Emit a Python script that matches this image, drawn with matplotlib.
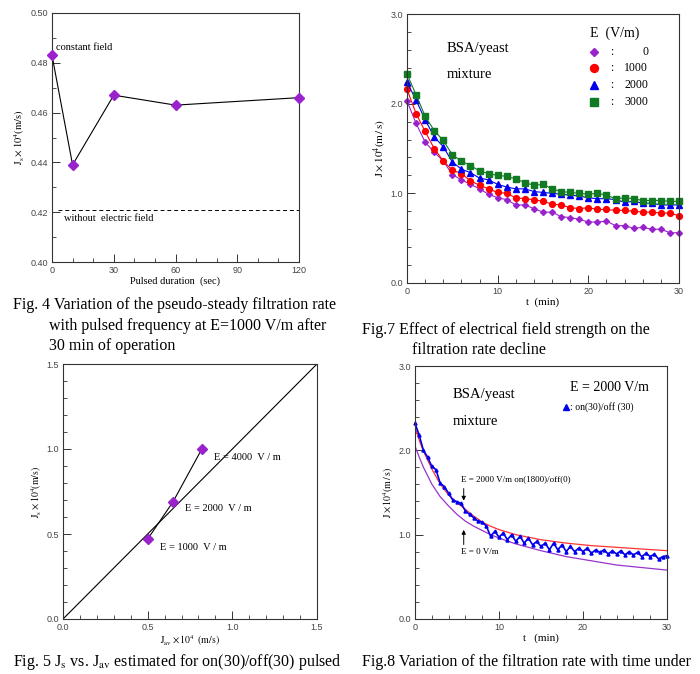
import matplotlib
matplotlib.use("Agg")
import matplotlib.pyplot as plt
import numpy as np
from matplotlib.ticker import MultipleLocator, FormatStrFormatter

plt.rcParams['font.family'] = ['Liberation Serif', 'DejaVu Serif']
plt.rcParams['mathtext.fontset'] = 'stix'

# ---- Fig. 4 data ----
pulse_sec = [0, 10, 30, 60, 120]
js_pulse = [0.483, 0.439, 0.467, 0.463, 0.466]
js_no_field = 0.421

# ---- Fig. 7 data ----
t7 = list(range(31))
j_e0 = [2.03, 1.78, 1.57, 1.46, 1.36, 1.21, 1.15, 1.10, 1.05, 0.99, 0.95, 0.93, 0.87, 0.87,
        0.83, 0.79, 0.79, 0.74, 0.73, 0.71, 0.68, 0.68, 0.69, 0.64, 0.64, 0.61, 0.62, 0.60,
        0.60, 0.56, 0.56]
j_e1000 = [2.16, 1.89, 1.69, 1.50, 1.36, 1.26, 1.22, 1.14, 1.09, 1.05, 1.01, 1.00, 0.95, 0.94,
           0.93, 0.91, 0.88, 0.87, 0.84, 0.83, 0.84, 0.82, 0.82, 0.81, 0.81, 0.80, 0.79, 0.79,
           0.78, 0.78, 0.75]
j_e2000 = [2.24, 2.04, 1.82, 1.63, 1.52, 1.35, 1.27, 1.23, 1.17, 1.15, 1.10, 1.07, 1.05, 1.05,
           1.02, 1.01, 1.00, 0.99, 0.98, 0.97, 0.95, 0.94, 0.94, 0.93, 0.90, 0.91, 0.89, 0.89,
           0.87, 0.87, 0.87]
j_e3000 = [2.33, 2.10, 1.86, 1.70, 1.59, 1.43, 1.36, 1.31, 1.25, 1.22, 1.20, 1.19, 1.16, 1.12,
           1.09, 1.10, 1.05, 1.02, 1.01, 1.00, 0.99, 1.00, 0.98, 0.94, 0.95, 0.94, 0.92, 0.92,
           0.92, 0.91, 0.91]
field_labels = ['0', '1000', '2000', '3000']

# ---- Fig. 5 data ----
j_av = [0.50, 0.65, 0.82]
j_s = [0.47, 0.69, 1.00]
e_labels = ['E = 1000  V / m', 'E = 2000  V / m', 'E = 4000  V / m']

# ---- Fig. 8 data ----
t8 = [0, 0.5, 1, 1.5, 2, 2.5, 3, 3.5, 4, 4.5, 5, 5.5, 6, 6.5, 7, 7.5, 8, 8.5, 9, 9.5, 10,
      10.5, 11, 11.5, 12, 12.5, 13, 13.5, 14, 14.5, 15, 15.5, 16, 16.5, 17, 17.5, 18, 18.5,
      19, 19.5, 20, 20.5, 21, 21.5, 22, 22.5, 23, 23.5, 24, 24.5, 25, 25.5, 26, 26.5, 27,
      27.5, 28, 28.5, 29, 29.5, 30]
j_pulsed = [2.32, 2.18, 2.00, 1.92, 1.81, 1.77, 1.61, 1.57, 1.49, 1.41, 1.39, 1.37, 1.28, 1.24,
            1.20, 1.16, 1.15, 1.10, 0.98, 1.04, 0.97, 1.02, 0.94, 1.00, 0.92, 0.98, 0.90, 0.96,
            0.88, 0.92, 0.86, 0.90, 0.82, 0.90, 0.82, 0.88, 0.80, 0.86, 0.80, 0.84, 0.80, 0.84,
            0.78, 0.82, 0.79, 0.82, 0.77, 0.81, 0.77, 0.81, 0.76, 0.80, 0.76, 0.79, 0.74, 0.78,
            0.74, 0.77, 0.71, 0.74, 0.75]
t_curve = [0, 0.5, 1, 2, 3, 4, 5, 6, 7, 8, 9, 10, 12, 15, 18, 21, 24, 27, 30]
j_const2000 = [2.28, 2.12, 1.99, 1.78, 1.60, 1.47, 1.38, 1.30, 1.22, 1.15, 1.10, 1.06, 1.00,
               0.94, 0.90, 0.87, 0.85, 0.83, 0.81]
j_zero = [2.05, 1.92, 1.80, 1.60, 1.45, 1.34, 1.24, 1.16, 1.10, 1.05, 1.00, 0.96, 0.89, 0.81,
          0.74, 0.69, 0.64, 0.61, 0.58]

W, H = 700, 674
fig = plt.figure(figsize=(7, 6.74), dpi=100)


def make_axes(left, top, right, bottom):
    ax = fig.add_axes([left / W, (H - bottom) / H, (right - left) / W, (bottom - top) / H])
    for s in ax.spines.values():
        s.set_linewidth(0.8)
        s.set_color('#333333')
    ax.tick_params(which='both', direction='in', top=False, right=False,
                   labelsize=6.5, labelcolor='#444444', color='#333333', pad=3)
    ax.tick_params(which='major', length=6, width=0.7)
    ax.tick_params(which='minor', length=3, width=0.6)
    return ax


def sans_ticks(ax):
    for lab in ax.get_xticklabels() + ax.get_yticklabels():
        lab.set_family('Liberation Sans')


purple = '#9922cc'

# ---------- Fig. 4 ----------
ax1 = make_axes(52, 13, 299, 262)
ax1.plot(pulse_sec, js_pulse, color='black', lw=0.8, marker='D', ms=4.8,
         mfc=purple, mec=purple, zorder=3, clip_on=False)
ax1.plot([3, 120], [js_no_field, js_no_field], color='black', lw=0.7, ls=(0, (4, 3)))
ax1.text(2, 0.486, 'constant field', fontsize=7.5, va='center')
ax1.text(6, 0.4173, 'without  electric field', fontsize=7.5, va='center')
ax1.set_xlim(0, 120)
ax1.set_ylim(0.40, 0.50)
ax1.xaxis.set_major_locator(MultipleLocator(30))
ax1.xaxis.set_minor_locator(MultipleLocator(10))
ax1.yaxis.set_major_locator(MultipleLocator(0.02))
ax1.yaxis.set_minor_locator(MultipleLocator(0.01))
ax1.yaxis.set_major_formatter(FormatStrFormatter('%.2f'))
ax1.set_xlabel('Pulsed duration  (sec)', fontsize=7.5, labelpad=1)
ax1.set_ylabel(r'$\mathrm{J_s\times 10^4(m/s)}$', fontsize=7.5, labelpad=2)
sans_ticks(ax1)

# ---------- Fig. 7 ----------
ax2 = make_axes(407, 14, 679, 283)
series7 = [(j_e0, purple, 'D', 3.0), (j_e1000, '#ff0000', 'o', 4.2),
           (j_e2000, '#0000ee', '^', 4.2), (j_e3000, '#117a22', 's', 4.2)]
for vals, c, m, ms in series7:
    ax2.plot(t7, vals, color=c, lw=0.8, marker=m, ms=ms, mfc=c, mec=c, clip_on=False)
ax2.text(4.4, 2.62, 'BSA/yeast', fontsize=10.5, va='center')
ax2.text(4.4, 2.33, 'mixture', fontsize=10.5, va='center')
ax2.text(20.2, 2.79, 'E  (V/m)', fontsize=10, va='center')
leg_y = [2.58, 2.40, 2.21, 2.02]
for (vals, c, m, ms), yy, lab in zip(series7, leg_y, field_labels):
    ax2.plot([20.6], [yy], marker=m, ms=ms + 1.5, color=c, ls='none')
    ax2.text(22.4, yy, ':', fontsize=8.5, va='center')
    ax2.text(26.6, yy, lab, fontsize=8.5, va='center', ha='right')
ax2.set_xlim(0, 30)
ax2.set_ylim(0, 3.0)
ax2.xaxis.set_major_locator(MultipleLocator(10))
ax2.xaxis.set_minor_locator(MultipleLocator(2))
ax2.yaxis.set_major_locator(MultipleLocator(1.0))
ax2.yaxis.set_minor_locator(MultipleLocator(0.2))
ax2.yaxis.set_major_formatter(FormatStrFormatter('%.1f'))
ax2.set_xlabel('t  (min)', fontsize=8, labelpad=1)
ax2.set_ylabel(r'$\mathrm{J\times 10^4(m\,/\,s)}$', fontsize=8, labelpad=2)
sans_ticks(ax2)

# ---------- Fig. 5 ----------
ax3 = make_axes(63, 364, 317, 619)
ax3.plot([0, 1.5], [0, 1.5], color='black', lw=0.8)
ax3.plot(j_av, j_s, color='black', lw=0.8, marker='D', ms=5, mfc=purple, mec=purple, zorder=3)
label_pos = [(0.57, 0.42), (0.72, 0.65), (0.89, 0.95)]
for (xx, yy), lab in zip(label_pos, e_labels):
    ax3.text(xx, yy, lab, fontsize=7.5, va='center')
ax3.set_xlim(0, 1.5)
ax3.set_ylim(0, 1.5)
for axis in (ax3.xaxis, ax3.yaxis):
    axis.set_major_locator(MultipleLocator(0.5))
    axis.set_minor_locator(MultipleLocator(0.1))
    axis.set_major_formatter(FormatStrFormatter('%.1f'))
ax3.set_xlabel(r'$\mathrm{J_{av}\times 10^4\;\;(m/s)}$', fontsize=7, labelpad=1)
ax3.set_ylabel(r'$\mathrm{J_s\times 10^4(m/s)}$', fontsize=7, labelpad=2)
sans_ticks(ax3)

# ---------- Fig. 8 ----------
ax4 = make_axes(415, 366, 667, 619)
ax4.plot(t_curve, j_const2000, color='#ff3333', lw=0.9)
ax4.plot(t_curve, j_zero, color='#9933cc', lw=0.9)
ax4.plot(t8, j_pulsed, color='#0000ee', lw=1.2, marker='^', ms=2.2, mfc='#0000ee',
         mec='#0000ee', clip_on=False)
ax4.text(4.5, 2.66, 'BSA/yeast', fontsize=10.5, va='center')
ax4.text(4.5, 2.34, 'mixture', fontsize=10.5, va='center')
ax4.text(18.4, 2.74, 'E = 2000 V/m', fontsize=10, va='center')
ax4.plot([18.0], [2.51], marker='^', ms=4.5, color='#0000ee', ls='none')
ax4.text(18.5, 2.51, ': on(30)/off (30)', fontsize=7, va='center')
ax4.text(5.5, 1.66, 'E = 2000 V/m on(1800)/off(0)', fontsize=6.5, va='center')
ax4.annotate('', xy=(5.8, 1.37), xytext=(5.8, 1.58),
             arrowprops=dict(arrowstyle='-|>', color='black', lw=0.7, mutation_scale=6))
ax4.annotate('', xy=(5.8, 1.09), xytext=(5.8, 0.85),
             arrowprops=dict(arrowstyle='-|>', color='black', lw=0.7, mutation_scale=6))
ax4.text(5.5, 0.79, 'E = 0 V/m', fontsize=6.5, va='center')
ax4.set_xlim(0, 30)
ax4.set_ylim(0, 3.0)
ax4.xaxis.set_major_locator(MultipleLocator(10))
ax4.xaxis.set_minor_locator(MultipleLocator(2))
ax4.yaxis.set_major_locator(MultipleLocator(1.0))
ax4.yaxis.set_minor_locator(MultipleLocator(0.2))
ax4.yaxis.set_major_formatter(FormatStrFormatter('%.1f'))
ax4.set_xlabel('t   (min)', fontsize=8, labelpad=1)
ax4.set_ylabel(r'$\mathrm{J\times 10^4(m\,/\,s)}$', fontsize=7, labelpad=2)
sans_ticks(ax4)

# ---------- captions ----------
cap = 11.5


def caption(x, y, s):
    fig.text(x / W, (H - y) / H, s, fontsize=cap, va='center', ha='left')


caption(13, 305, 'Fig. 4 Variation of the pseudo-steady filtration rate')
caption(49, 326, 'with pulsed frequency at E=1000 V/m after')
caption(49, 346, '30 min of operation')
caption(362, 330, 'Fig.7 Effect of electrical field strength on the')
caption(412, 350, 'filtration rate decline')
caption(13, 662, r'Fig. 5 J$_\mathrm{s}$ vs. J$_\mathrm{av}$ estimated for on(30)/off(30) pulsed')
caption(362, 662, 'Fig.8 Variation of the filtration rate with time under')

fig.savefig('out.png', dpi=100)
